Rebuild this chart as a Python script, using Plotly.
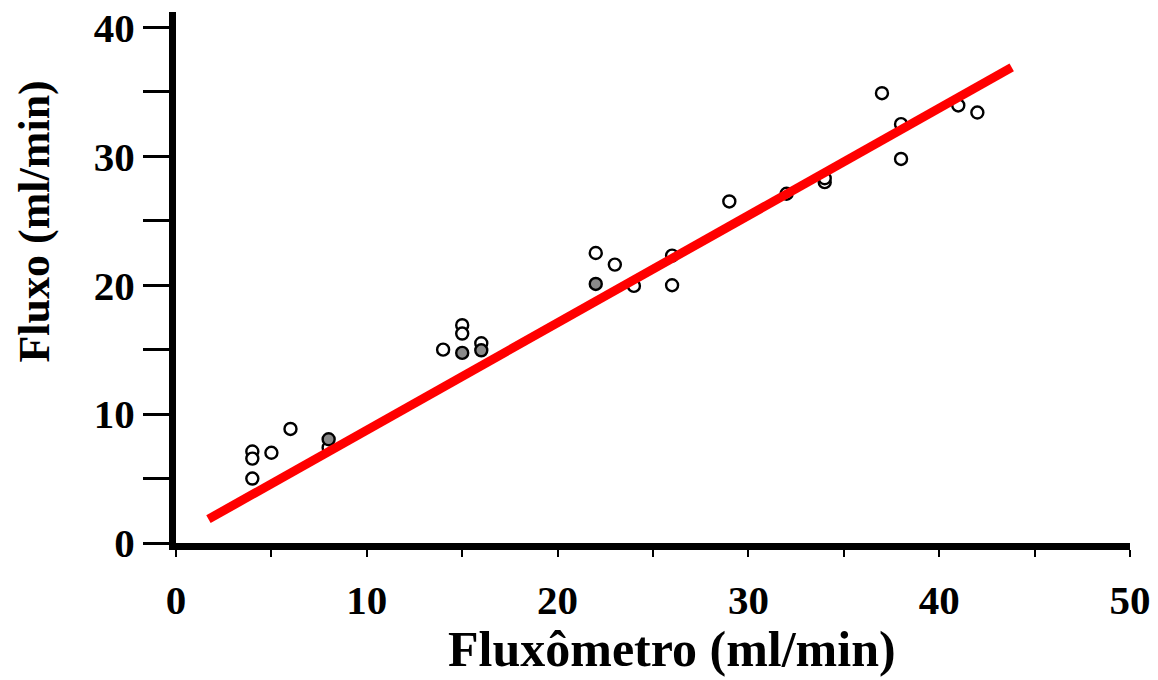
import plotly.graph_objects as go

# Data
open_x = [4, 4, 4, 5, 6, 8, 14, 15, 15, 16, 22, 23, 24, 26, 26, 29, 32, 34, 34, 37, 38, 38, 41, 42]
open_y = [7.1, 6.55, 5.0, 7.0, 8.85, 7.4, 15.0, 16.9, 16.25, 15.5, 22.5, 21.6, 19.95, 20.0, 22.3, 26.5, 27.1, 28.0, 28.3, 34.9, 32.5, 29.8, 33.95, 33.4]
shaded_x = [8, 15, 16, 22]
shaded_y = [8.05, 14.75, 14.95, 20.1]
fit_x = [1.7, 43.8]
fit_y = [1.85, 36.9]

x_ticks = [0, 10, 20, 30, 40, 50]
y_ticks = [0, 10, 20, 30, 40]
x_title = "Fluxômetro (ml/min)"
y_title = "Fluxo (ml/min)"

FONT = "Liberation Serif"

fig = go.Figure()
fig.add_trace(go.Scatter(
    x=open_x, y=open_y, mode="markers",
    marker=dict(symbol="circle", size=12, color="white",
                line=dict(color="black", width=2.4)),
    showlegend=False, cliponaxis=False))
fig.add_trace(go.Scatter(
    x=shaded_x, y=shaded_y, mode="markers",
    marker=dict(symbol="circle", size=12, color="#8a8a8a",
                line=dict(color="black", width=2.4)),
    showlegend=False, cliponaxis=False))
fig.add_trace(go.Scatter(
    x=fit_x, y=fit_y, mode="lines",
    line=dict(color="#ff0000", width=9),
    showlegend=False))

fig.update_layout(
    width=1158, height=680,
    paper_bgcolor="white", plot_bgcolor="white",
    margin=dict(l=176, r=28, t=12, b=137, autoexpand=False),
    font=dict(family=FONT, color="black"),
    xaxis=dict(
        range=[0, 50], tickvals=x_ticks, showgrid=False, zeroline=False,
        showline=True, linecolor="black", linewidth=7,
        ticks="outside", ticklen=7, tickwidth=2, tickcolor="black",
        minor=dict(dtick=5, tick0=0, ticks="outside", ticklen=7, tickwidth=2, tickcolor="black", showgrid=False),
        tickfont=dict(family=FONT, size=41, color="black", weight="bold"),
        ticklabelstandoff=8,
    ),
    yaxis=dict(
        range=[0, 41.2], tickvals=y_ticks, showgrid=False, zeroline=False,
        showline=True, linecolor="black", linewidth=7,
        ticks="outside", ticklen=26, tickwidth=3, tickcolor="black",
        minor=dict(dtick=5, tick0=0, ticks="outside", ticklen=26, tickwidth=3, tickcolor="black", showgrid=False),
        tickfont=dict(family=FONT, size=41, color="black", weight="bold"),
        ticklabelstandoff=0,
    ),
    annotations=[
        dict(text=f"<b>{x_title}</b>", xref="paper", yref="paper",
             x=0.52, y=-0.2, xanchor="center", yanchor="middle",
             showarrow=False, font=dict(family=FONT, size=50, color="black")),
        dict(text=f"<b>{y_title}</b>", xref="paper", yref="paper",
             x=-0.148, y=0.605, xanchor="center", yanchor="middle", textangle=-90,
             showarrow=False, font=dict(family=FONT, size=44, color="black")),
    ],
)

fig.write_html("out.html", config={"displayModeBar": False},
               post_script="document.body.style.margin='0';document.body.style.overflow='hidden';")
